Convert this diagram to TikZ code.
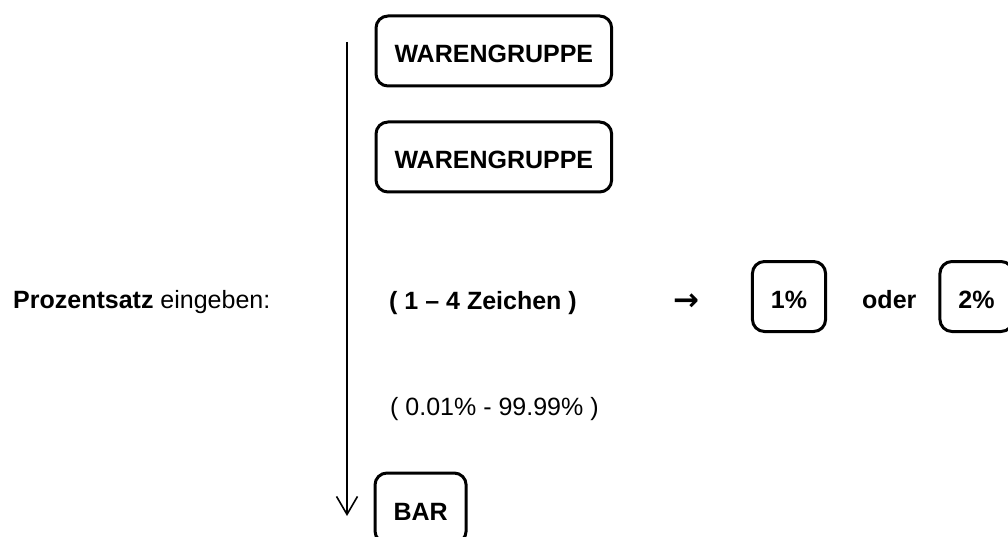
\documentclass[tikz,border=0pt]{standalone}
\usepackage{fontspec}
\setmainfont{Liberation Sans}
\newfontfamily\symfont{DejaVu Sans}
\usetikzlibrary{positioning,arrows.meta}

\begin{document}
\begin{tikzpicture}[x=1pt,y=1pt,font=\fontsize{25}{30}\selectfont,
  taste/.style={rectangle,rounded corners=12pt,draw=black,line width=3pt,font=\fontsize{25}{30}\selectfont\bfseries,minimum height=70pt,inner xsep=18.5pt,inner ysep=0pt,text height=24pt,text depth=0pt},
  txt/.style={inner sep=0pt,anchor=base west},
  bold/.style={font=\fontsize{25}{30}\selectfont\bfseries},
  ar/.style={-{Straight Barb[length=18pt,width=21pt,line width=1.6pt]},line width=1.8pt}]
\fill[white](0,0) rectangle (1008,-537);
\clip(0,0) rectangle (1008,-537);
\node[taste,anchor=north west](wg1) at (374.5,-14.5){WARENGRUPPE};
\node[taste,below=33pt of wg1](wg2){WARENGRUPPE};
\node[txt](prz) at (13,-308){\textbf{Prozentsatz} eingeben:};
\node[txt,bold](zei) at (389,-309){( 1 – 4 Zeichen )};
\node[inner sep=0pt,font=\fontsize{31}{34}\selectfont\symfont\bfseries](pf) at (686,-302){→};
\node[taste](p1) at (789,-296.5){1\%};
\node[txt,bold](oder) at (862,-308){oder};
\node[taste](p2) at (976.5,-296.5){2\%};
\node[txt](rng) at (390,-415){( 0.01\% - 99.99\% )};
\node[taste,anchor=north west](bar) at (373.5,-471.5){BAR};
\coordinate(top) at (347,-42);
\coordinate(bot) at (347,-516);
\draw[ar](top)--(bot);
\end{tikzpicture}
\end{document}
